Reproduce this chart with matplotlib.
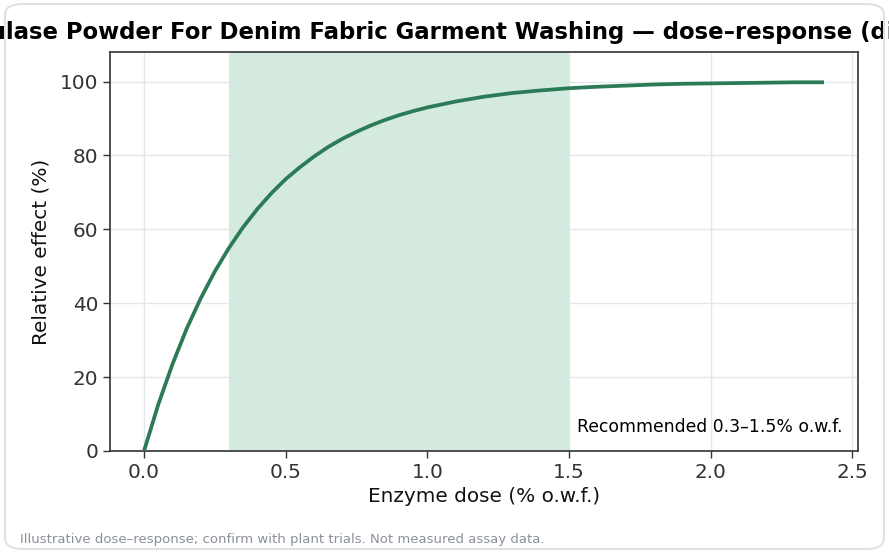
import matplotlib
matplotlib.use("Agg")
import matplotlib.pyplot as plt
from matplotlib.patches import FancyBboxPatch

dose = [0.0, 0.05, 0.1, 0.15, 0.2, 0.25, 0.3, 0.35, 0.4, 0.45, 0.5, 0.55, 0.6, 0.65,
        0.7, 0.75, 0.8, 0.85, 0.9, 0.95, 1.0, 1.1, 1.2, 1.3, 1.4, 1.5, 1.6, 1.7, 1.8,
        1.9, 2.0, 2.1, 2.2, 2.3, 2.4]
effect = [0.0, 12.5, 23.4, 33.0, 41.3, 48.6, 55.0, 60.6, 65.5, 69.8, 73.6, 76.8, 79.7, 82.3,
          84.5, 86.4, 88.1, 89.6, 90.9, 92.0, 93.0, 94.6, 95.9, 96.9, 97.6, 98.2, 98.6, 98.9, 99.2,
          99.4, 99.5, 99.6, 99.7, 99.8, 99.8]
rec_low, rec_high = 0.3, 1.5

title = "Cellulase Powder For Denim Fabric Garment Washing \u2014 dose\u2013response (directional)"
xlabel = "Enzyme dose (% o.w.f.)"
ylabel = "Relative effect (%)"
legend_label = "Recommended 0.3\u20131.5% o.w.f."
footnote = "Illustrative dose\u2013response; confirm with plant trials. Not measured assay data."

plt.rcParams['font.family'] = ['DejaVu Sans']

fig = plt.figure(figsize=(8.89, 5.52), dpi=100)
ax = fig.add_axes([110/889, 1-451/552, (858-110)/889, (451-52)/552])

ax.axvspan(rec_low, rec_high, color="#d5eadf", lw=0, label=legend_label, zorder=1)
ax.plot(dose, effect, color="#2b7b57", lw=2.7, zorder=3, solid_capstyle='butt')

ax.set_xlim(-0.12, 2.52)
ax.set_ylim(0, 108)
ax.set_xticks([0.0, 0.5, 1.0, 1.5, 2.0, 2.5])
ax.set_yticks([0, 20, 40, 60, 80, 100])
ax.grid(True, color="#e3e6ea", lw=1.0, zorder=0)
ax.set_axisbelow(True)
for s in ax.spines.values():
    s.set_color("#333333")
    s.set_linewidth(1.2)
ax.tick_params(labelsize=14.4, colors="#333333", length=5, width=1.0)
ax.set_xlabel(xlabel, fontsize=14.4, color="#111111")
ax.set_ylabel(ylabel, fontsize=14.4, color="#111111", labelpad=6.5)
t = ax.set_title(title, fontsize=16.4, fontweight="bold", pad=9)
t.set_x(0.5 - 4/748)
ax.legend(loc="lower right", frameon=False, fontsize=12.4)

fig.text(20/889, 1-543/552, footnote, fontsize=9.5, color="#8a9099", ha="left", va="baseline")

border = FancyBboxPatch((5/889, 3/552), 879/889, 545/552,
                        boxstyle="round,pad=0,rounding_size=0.02",
                        transform=fig.transFigure, fill=False,
                        edgecolor="#dde1e6", lw=1.5)
fig.patches.append(border)

fig.savefig("out.png", dpi=100)
